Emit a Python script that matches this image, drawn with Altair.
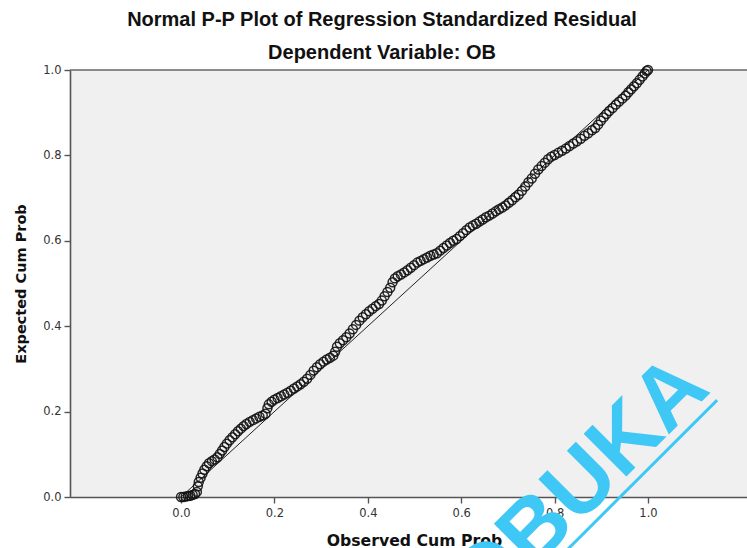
import altair as alt
import pandas as pd

title_text = "Normal P-P Plot of Regression Standardized Residual"
subtitle_text = "Dependent Variable: OB"
x_title = "Observed Cum Prob"
y_title = "Expected Cum Prob"
tick_values = [0.0, 0.2, 0.4, 0.6, 0.8, 1.0]
watermark_text = "OBUKA"

observed = [0.000, 0.005, 0.010, 0.015, 0.020, 0.025, 0.030, 0.034, 0.036, 0.038,
            0.042, 0.046, 0.050, 0.055, 0.060, 0.066, 0.072, 0.078, 0.083, 0.088,
            0.093, 0.098, 0.104, 0.110, 0.116, 0.122, 0.128, 0.134, 0.140, 0.147,
            0.154, 0.161, 0.168, 0.175, 0.181, 0.185, 0.188, 0.194, 0.200, 0.207,
            0.214, 0.221, 0.228, 0.235, 0.242, 0.249, 0.256, 0.263, 0.270, 0.277,
            0.284, 0.291, 0.298, 0.305, 0.312, 0.319, 0.326, 0.330, 0.334, 0.340,
            0.347, 0.354, 0.361, 0.368, 0.375, 0.382, 0.389, 0.396, 0.403, 0.410,
            0.417, 0.424, 0.430, 0.436, 0.442, 0.448, 0.453, 0.458, 0.464, 0.471,
            0.478, 0.485, 0.492, 0.499, 0.506, 0.513, 0.520, 0.527, 0.534, 0.541,
            0.548, 0.555, 0.562, 0.569, 0.576, 0.583, 0.590, 0.597, 0.604, 0.611,
            0.618, 0.625, 0.632, 0.639, 0.646, 0.653, 0.660, 0.667, 0.674, 0.681,
            0.688, 0.695, 0.702, 0.709, 0.716, 0.723, 0.730, 0.737, 0.744, 0.751,
            0.758, 0.765, 0.772, 0.779, 0.786, 0.793, 0.800, 0.808, 0.816, 0.824,
            0.832, 0.840, 0.848, 0.856, 0.864, 0.872, 0.880, 0.887, 0.893, 0.899,
            0.905, 0.911, 0.917, 0.924, 0.931, 0.938, 0.945, 0.952, 0.958, 0.964,
            0.970, 0.976, 0.982, 0.988, 0.993, 0.997, 1.000]
expected = [0.000, 0.000, 0.001, 0.002, 0.003, 0.005, 0.007, 0.012, 0.025, 0.035,
            0.045, 0.055, 0.064, 0.072, 0.079, 0.084, 0.088, 0.093, 0.101, 0.109,
            0.117, 0.125, 0.133, 0.140, 0.147, 0.154, 0.160, 0.166, 0.171, 0.176,
            0.180, 0.184, 0.188, 0.191, 0.195, 0.208, 0.217, 0.223, 0.228, 0.232,
            0.236, 0.240, 0.244, 0.249, 0.254, 0.259, 0.264, 0.270, 0.277, 0.286,
            0.296, 0.304, 0.311, 0.317, 0.322, 0.326, 0.331, 0.340, 0.352, 0.360,
            0.367, 0.374, 0.383, 0.393, 0.403, 0.413, 0.421, 0.428, 0.435, 0.441,
            0.447, 0.452, 0.460, 0.470, 0.480, 0.490, 0.503, 0.512, 0.517, 0.521,
            0.526, 0.531, 0.537, 0.543, 0.549, 0.553, 0.557, 0.561, 0.565, 0.568,
            0.571, 0.577, 0.583, 0.589, 0.595, 0.600, 0.604, 0.611, 0.618, 0.625,
            0.631, 0.636, 0.640, 0.645, 0.650, 0.655, 0.659, 0.664, 0.669, 0.674,
            0.678, 0.683, 0.689, 0.695, 0.702, 0.708, 0.717, 0.727, 0.737, 0.746,
            0.757, 0.767, 0.775, 0.783, 0.791, 0.797, 0.801, 0.806, 0.811, 0.816,
            0.822, 0.828, 0.833, 0.839, 0.846, 0.852, 0.859, 0.864, 0.872, 0.881,
            0.889, 0.897, 0.904, 0.911, 0.919, 0.926, 0.933, 0.940, 0.948, 0.955,
            0.962, 0.969, 0.977, 0.985, 0.992, 0.998, 1.000]
ref_x = [0.0, 1.0]
ref_y = [0.0, 1.0]

points = pd.DataFrame({"obs": observed, "exp": expected})
ref = pd.DataFrame({"obs": ref_x, "exp": ref_y})

x_scale = alt.Scale(domain=[-0.2377, 1.212], nice=False, zero=False)
y_scale = alt.Scale(domain=[0, 1], nice=False, zero=False)

axis_common = dict(
    grid=False, domainColor="#555555", domainWidth=1.6, tickColor="#555555",
    tickWidth=1.4, tickSize=6, labelFont="DejaVu Sans", labelFontSize=11.5,
    labelColor="#333333", titleFont="DejaVu Sans", titleFontWeight="bold",
    titleColor="#111111", format=".1f", values=tick_values,
)

x_axis = alt.Axis(title=x_title, labelPadding=4, titleFontSize=15.7,
                  titleX=344, titleY=43, titleBaseline="middle", **axis_common)
y_axis = alt.Axis(title=y_title, labelPadding=3, titleFontSize=14.5,
                  titleX=-49, titleY=213.5, titleAngle=270,
                  titleBaseline="middle", titleAlign="center", **axis_common)

top_border = alt.Chart().mark_rule(color="#666666", strokeWidth=1.5).encode(
    y=alt.Y(datum=1.0, scale=y_scale)
)

ref_line = alt.Chart(ref).mark_line(color="#222222", strokeWidth=1).encode(
    x=alt.X("obs:Q", scale=x_scale, axis=x_axis),
    y=alt.Y("exp:Q", scale=y_scale, axis=y_axis),
)

pts = alt.Chart(points).mark_point(shape="circle", filled=False, size=80,
                                   color="#111111", strokeWidth=1.5, opacity=0.9).encode(
    x=alt.X("obs:Q", scale=x_scale, axis=x_axis),
    y=alt.Y("exp:Q", scale=y_scale, axis=y_axis),
)

wm_color = "#3fc8f5"
watermark = alt.Chart().mark_text(
    text=watermark_text, angle=315, align="left", baseline="alphabetic",
    fontSize=88, font="Liberation Sans", fontWeight="bold", color=wm_color,
).encode(x=alt.X(datum=0.649), y=alt.Y(datum=-0.286))

underline = alt.Chart().mark_rule(color=wm_color, strokeWidth=3).encode(
    x=alt.X(datum=1.148), y=alt.Y(datum=0.227),
    x2=alt.X2(datum=0.640), y2=alt.Y2(datum=-0.328),
)

chart = alt.layer(top_border, ref_line, pts, watermark, underline).properties(
    width=677, height=427,
    autosize=alt.AutoSizeParams(type="none"),
    padding={"left": 70, "top": 70, "right": 0, "bottom": 51},
    title=alt.TitleParams(
        text=title_text, subtitle=subtitle_text, anchor="middle", frame="group",
        dx=-26.5, offset=0, font="Liberation Sans", fontSize=20, fontWeight="bold",
        color="#111111", subtitleFont="Liberation Sans", subtitleFontSize=20,
        subtitleFontWeight="bold", subtitleColor="#111111", subtitlePadding=13,
    ),
).configure(background="white").configure_view(fill="#f0f0f0", strokeWidth=0)

chart.save("out.html", embed_options={"renderer": "svg", "actions": False})
